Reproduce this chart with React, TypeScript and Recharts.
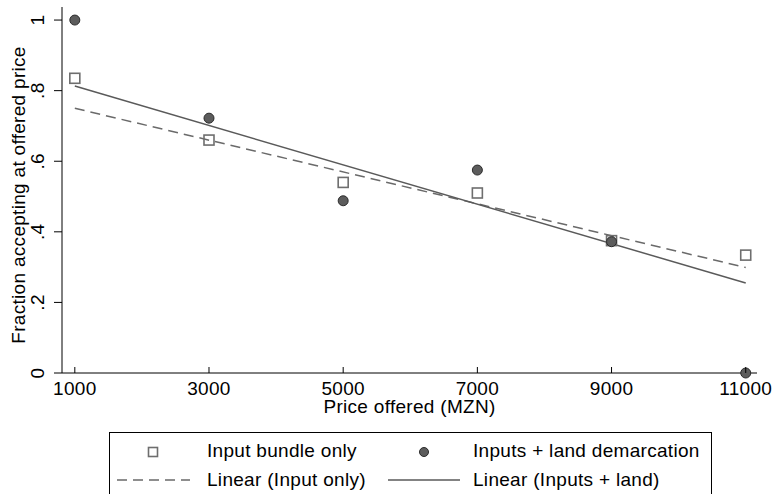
import { ComposedChart, Scatter, Line, XAxis, YAxis } from 'recharts';

const prices = [1000, 3000, 5000, 7000, 9000, 11000];
const inputOnly = [0.835, 0.66, 0.54, 0.51, 0.375, 0.334];
const inputsLand = [1.0, 0.722, 0.488, 0.575, 0.372, 0];

const fitPrices = [1000, 11000];
const fitInputOnly = [0.75, 0.299];
const fitInputsLand = [0.813, 0.255];

const xTicks = [1000, 3000, 5000, 7000, 9000, 11000];
const yTicks = [0, 0.2, 0.4, 0.6, 0.8, 1];
const yTickLabels = ['0', '.2', '.4', '.6', '.8', '1'];

const inputOnlyData = prices.map((p, i) => ({ x: p, y: inputOnly[i] }));
const inputsLandData = prices.map((p, i) => ({ x: p, y: inputsLand[i] }));
const fitInputOnlyData = fitPrices.map((p, i) => ({ x: p, y: fitInputOnly[i] }));
const fitInputsLandData = fitPrices.map((p, i) => ({ x: p, y: fitInputsLand[i] }));

const FONT = 'Arial, "Liberation Sans", sans-serif';
const INK = '#000';
const txt = { fontSize: 19, fontFamily: FONT, fill: INK, letterSpacing: 0.3 };

const SquareDot = (props: any) => {
  const { cx, cy } = props;
  if (cx == null || cy == null) return null;
  return <rect x={cx - 5} y={cy - 5} width={10} height={10} fill="none" stroke="#6e6e6e" strokeWidth={1.6} />;
};

const CircleDot = (props: any) => {
  const { cx, cy } = props;
  if (cx == null || cy == null) return null;
  return <circle cx={cx} cy={cy} r={5} fill="#5c5c5c" stroke="#2b2b2b" strokeWidth={1} />;
};

const XTick = (props: any) => {
  const { x, y, payload } = props;
  return (
    <g>
      <line x1={x} x2={x} y1={y - 6} y2={y} stroke={INK} strokeWidth={1} />
      <text x={x} y={y + 22} textAnchor="middle" {...txt}>
        {payload.value}
      </text>
    </g>
  );
};

const YTick = (props: any) => {
  const { x, y, payload } = props;
  const idx = yTicks.indexOf(payload.value);
  return (
    <text x={x} y={y} transform={`rotate(-90, ${x}, ${y})`} textAnchor="middle" {...txt}>
      {idx >= 0 ? yTickLabels[idx] : payload.value}
    </text>
  );
};

const Legend = () => (
  <svg width={775} height={62} style={{ position: 'absolute', left: 0, top: 432 }}>
    <rect x={109.5} y={0.5} width={602} height={80} fill="#fff" stroke={INK} strokeWidth={1} />
    <rect x={148.5} y={15.5} width={9} height={9} fill="none" stroke="#6e6e6e" strokeWidth={1.6} />
    <text x={207} y={25} {...txt}>Input bundle only</text>
    <circle cx={424} cy={20} r={4.5} fill="#5c5c5c" stroke="#2b2b2b" strokeWidth={1} />
    <text x={473} y={25} {...txt}>Inputs + land demarcation</text>
    <line x1={117} x2={190} y1={48} y2={48} stroke="#6a6a6a" strokeWidth={1.5} strokeDasharray="10 6" />
    <text x={207} y={54} {...txt}>Linear (Input only)</text>
    <line x1={388} x2={460} y1={48} y2={48} stroke="#5a5a5a" strokeWidth={1.5} />
    <text x={473} y={54} {...txt}>Linear (Inputs + land)</text>
  </svg>
);

export default function App() {
  return (
    <div style={{ position: 'absolute', left: 0, top: 0, width: 775, height: 494, overflow: 'hidden', background: '#fff' }}>
      <ComposedChart width={775} height={494} margin={{ top: 7, right: 18, left: 0, bottom: 76 }}>
        <XAxis
          dataKey="x"
          type="number"
          domain={[809, 11168]}
          ticks={xTicks}
          tick={<XTick />}
          tickLine={false}
          tickSize={0}
          tickMargin={0}
          height={45}
          axisLine={{ stroke: INK, strokeWidth: 1 }}
          label={{
            content: (p: any) => {
              const vb = p.viewBox;
              return (
                <text x={vb.x + vb.width / 2} y={vb.y + 40} textAnchor="middle" {...txt}>
                  Price offered (MZN)
                </text>
              );
            },
          }}
        />
        <YAxis
          dataKey="y"
          type="number"
          domain={[0, 1.037]}
          ticks={yTicks}
          tick={<YTick />}
          tickSize={8}
          tickMargin={10}
          width={62}
          tickLine={{ stroke: INK, strokeWidth: 1 }}
          axisLine={{ stroke: INK, strokeWidth: 1 }}
          label={{
            content: (p: any) => {
              const vb = p.viewBox;
              const cx = vb.x + 25;
              const cy = vb.y + vb.height / 2 + 5;
              return (
                <text x={cx} y={cy} transform={`rotate(-90, ${cx}, ${cy})`} textAnchor="middle" {...txt}>
                  Fraction accepting at offered price
                </text>
              );
            },
          }}
        />
        <Line data={fitInputOnlyData} dataKey="y" type="linear" stroke="#6a6a6a" strokeWidth={1.5} strokeDasharray="10 6" dot={false} activeDot={false} isAnimationActive={false} />
        <Line data={fitInputsLandData} dataKey="y" type="linear" stroke="#5a5a5a" strokeWidth={1.5} dot={false} activeDot={false} isAnimationActive={false} />
        <Scatter data={inputOnlyData} dataKey="y" shape={<SquareDot />} isAnimationActive={false} />
        <Scatter data={inputsLandData} dataKey="y" shape={<CircleDot />} isAnimationActive={false} />
      </ComposedChart>
      <Legend />
    </div>
  );
}
